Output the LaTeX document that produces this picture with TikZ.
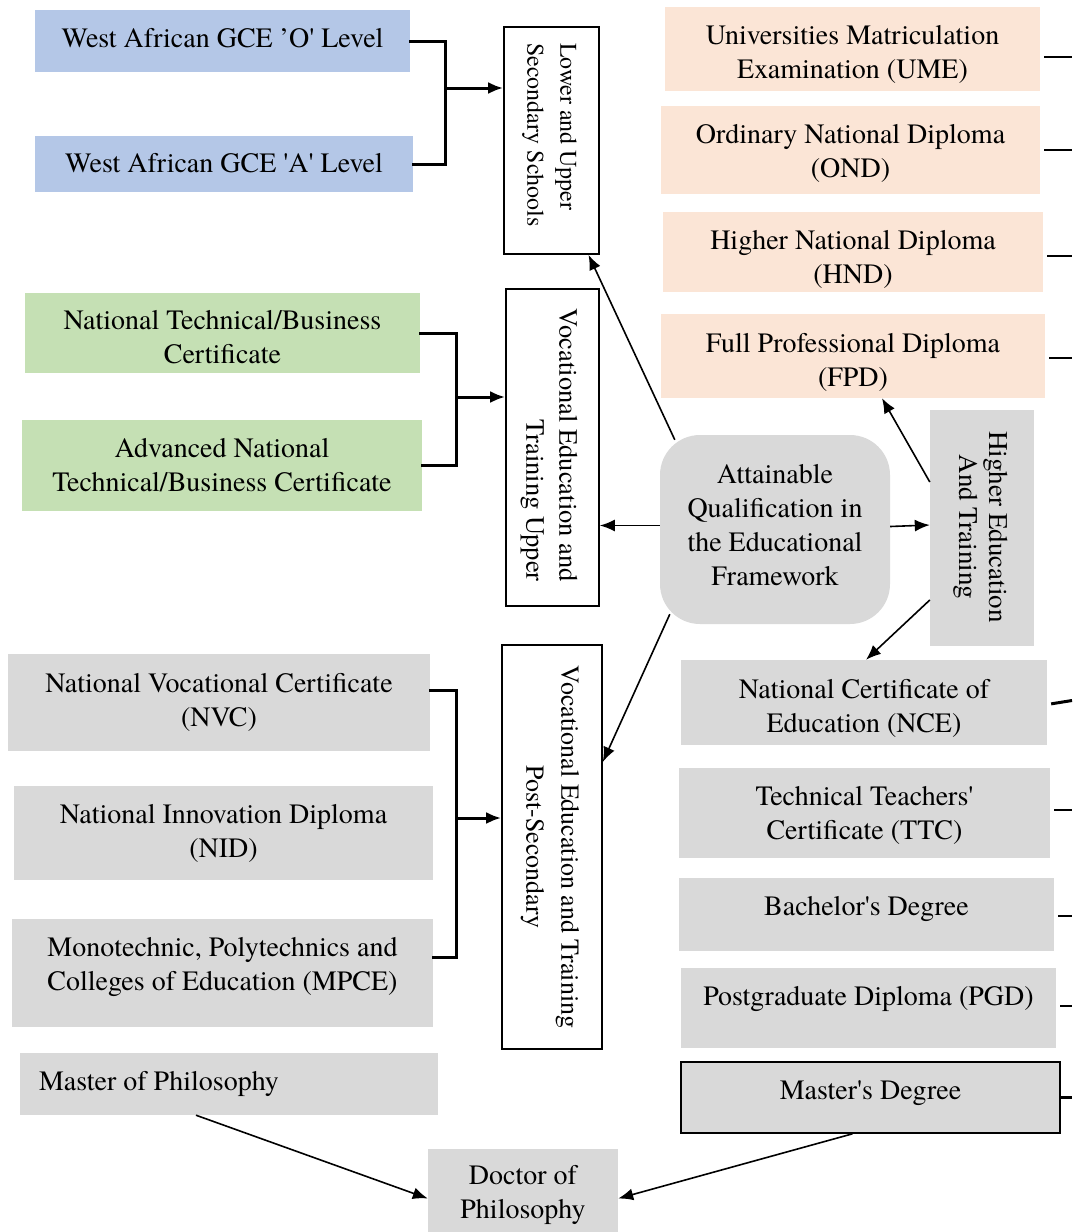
\documentclass[tikz,border=0pt]{standalone}
\usepackage{fontspec}
\setmainfont{texgyretermes}[Extension=.otf, UprightFont=*-regular, BoldFont=*-bold, ItalicFont=*-italic, BoldItalicFont=*-bolditalic]
\usetikzlibrary{arrows.meta}
\newcommand{\sq}{\textquotesingle}
\definecolor{boxblue}{HTML}{B4C7E7}
\definecolor{boxgreen}{HTML}{C5E0B4}
\definecolor{boxpeach}{HTML}{FBE5D6}
\definecolor{boxgray}{HTML}{D9D9D9}
\begin{document}
\begin{tikzpicture}[x=1pt,y=-1pt,
  font=\fontsize{28}{34}\selectfont,
  qbox/.style={rectangle, inner sep=0pt, anchor=center},
  lbl/.style={inner sep=0pt, align=center},
  blue/.style={qbox, fill=boxblue},
  green/.style={qbox, fill=boxgreen},
  peach/.style={qbox, fill=boxpeach},
  grey/.style={qbox, fill=boxgray},
  stage/.style={qbox, draw=black, line width=1.6pt, fill=white},
  vtext/.style={rotate=-90, inner sep=0pt},
  bracket/.style={line width=3pt, line cap=rect},
  link/.style={line width=1.6pt, -{Latex[length=15pt,width=12pt]}},
  feed/.style={line width=1.6pt, shorten <=4pt},
]
\useasboundingbox (0,0) rectangle (1072,1232);

% --- secondary school certificates
\node[blue, minimum width=375, minimum height=62,
  label={[lbl,yshift=3pt]center:{West African GCE 'O\sq{} Level}}] (gceO) at (222.5,41) {};
\node[blue, minimum width=378, minimum height=56,
  label={[lbl,yshift=1pt]center:{West African GCE \sq A\sq{} Level}}] (gceA) at (224,164) {};
\node[stage, minimum width=95, minimum height=227] (lower) at (551.5,140.5) {};
\node[vtext, align=left, anchor=west, font=\fontsize{24}{33}\selectfont] (lowerT) at (549.5,43) {Lower and Upper\\Secondary Schools};

% --- technical/business certificates
\node[green, minimum width=395, minimum height=80,
  label={[lbl,yshift=-4.5pt]center:{National Technical/Business\\Certificate}}] (ntbc) at (222.5,333) {};
\node[green, minimum width=400, minimum height=91,
  label={[lbl]center:{Advanced National\\Technical/Business Certificate}}] (antbc) at (222,465.5) {};
\node[stage, minimum width=93, minimum height=317] (vetU) at (552.5,447.5) {};
\node[vtext, align=right, anchor=east, font=\fontsize{26.5}{33}\selectfont] (vetUT) at (549,582) {Vocational Education and\\Training Upper};

% --- post-secondary vocational qualifications
\node[grey, minimum width=422, minimum height=97,
  label={[lbl]center:{National Vocational Certificate\\(NVC)}}] (nvc) at (219,702.5) {};
\node[grey, minimum width=419, minimum height=94,
  label={[lbl]center:{National Innovation Diploma\\(NID)}}] (nid) at (223.5,833) {};
\node[grey, minimum width=421, minimum height=108,
  label={[lbl,yshift=6pt]center:{Monotechnic, Polytechnics and\\Colleges of Education (MPCE)}}] (mpce) at (222.5,973) {};
\node[stage, minimum width=100, minimum height=404] (vetP) at (552,847) {};
\node[vtext, align=center, font=\fontsize{26}{35}\selectfont] (vetPT) at (550,847) {Vocational Education and Training\\Post-Secondary};

% --- doctoral route
\node[grey, minimum width=418, minimum height=62,
  label={[lbl,xshift=-70pt]center:{Master of Philosophy}}] (mphil) at (229,1084) {};
\node[grey, minimum width=190, minimum height=91,
  label={[lbl]center:{Doctor of\\Philosophy}}] (phd) at (523,1194.5) {};

% --- centre of the framework
\node[grey, rounded corners=40pt, minimum width=230, minimum height=189,
  label={[lbl,yshift=4.5pt]center:{Attainable\\Qualification in\\the Educational\\Framework}}] (core) at (775,529.5) {};

% --- higher education
\node[peach, minimum width=375, minimum height=84,
  label={[lbl,yshift=-5pt]center:{Universities Matriculation\\Examination (UME)}}] (ume) at (852.5,49) {};
\node[peach, minimum width=379, minimum height=88,
  label={[lbl,yshift=-3pt]center:{Ordinary National Diploma\\(OND)}}] (ond) at (850.5,150) {};
\node[peach, minimum width=380, minimum height=80,
  label={[lbl,yshift=-7pt]center:{Higher National Diploma\\(HND)}}] (hnd) at (853,252) {};
\node[peach, minimum width=384, minimum height=84,
  label={[lbl,yshift=-6pt]center:{Full Professional Diploma\\(FPD)}}] (fpd) at (853,356) {};
\node[grey, minimum width=104, minimum height=236] (hed) at (982,528) {};
\node[vtext, align=center, font=\fontsize{27}{30}\selectfont] (hedT) at (981,527) {Higher Education\\And Training};
\node[grey, minimum width=366, minimum height=85,
  label={[lbl,yshift=-6pt]center:{National Certificate of\\Education (NCE)}}] (nce) at (864,702.5) {};
\node[grey, minimum width=371, minimum height=90,
  label={[lbl,yshift=-2pt]center:{Technical Teachers\sq\\Certificate (TTC)}}] (ttc) at (864.5,813) {};
\node[grey, minimum width=375, minimum height=73,
  label={[lbl,yshift=5.5pt]center:{Bachelor\sq s Degree}}] (bach) at (866.5,914.5) {};
\node[grey, minimum width=375, minimum height=80,
  label={[lbl,yshift=9pt]center:{Postgraduate Diploma (PGD)}}] (pgd) at (868.5,1008) {};
\node[grey, draw=black, line width=1.6pt, minimum width=379, minimum height=71,
  label={[lbl,yshift=4.5pt]center:{Master\sq s Degree}}] (mast) at (870.5,1097.5) {};

% --- bracket joints, line ends and the right rim
\coordinate (j1) at (445,88);
\coordinate (j2) at (456,397);
\coordinate (j3) at (456,818);
\coordinate (rim) at (1072,0);
\coordinate (coreW) at ([yshift=4pt]core.west);
\coordinate (nvcE) at ([yshift=12.5pt]nvc.east);
\coordinate (mpceE) at ([yshift=16pt]mpce.east);
\coordinate (umeE) at ([yshift=-8pt]ume.east);
\coordinate (hndE) at ([yshift=-4pt]hnd.east);
\coordinate (fpdE) at ([yshift=-2pt]fpd.east);
\coordinate (nceE) at ([yshift=-2pt]nce.east);
\coordinate (nceR) at ([yshift=2pt]nce.east -| rim);
\coordinate (ttcE) at ([yshift=3pt]ttc.east);
\coordinate (bachE) at ([yshift=-1.5pt]bach.east);
\coordinate (pgdE) at ([yshift=2pt]pgd.east);

% --- brackets into the stage boxes
\draw[bracket] (gceO.east) -| (j1) |- (gceA.east);
\draw[link, line width=3pt] (j1) -- (lower.west |- j1);
\draw[bracket] (ntbc.east) -| (j2) |- (antbc.east);
\draw[link, line width=3pt] (j2) -- (vetU.west |- j2);
\draw[bracket] (nvcE) -| (j3) |- (mpceE);
\draw[link, line width=3pt] (j3) -- (vetP.west |- j3);

% --- arrows from the centre
\draw[link] ([xshift=15pt,yshift=-5pt]core.north west) -- ([xshift=37pt]lower.south);
\draw[link] (coreW) -- (vetU.east |- coreW);
\draw[link] ([xshift=10pt,yshift=10pt]core.south west) -- ([yshift=85pt]vetP.east);
\draw[link] ([yshift=3pt]core.east) -- ([yshift=3pt]hed.west);
\draw[link] ([yshift=46pt]hed.west) -- ([xshift=29pt]fpd.south);
\draw[link] ([yshift=-72pt]hed.west) -- ([xshift=2pt]nce.north);

% --- doctoral arrows
\draw[link] ([xshift=-33pt]mphil.south) -- ([yshift=-4pt]phd.west);
\draw[link] ([xshift=-18pt]mast.south) -- ([yshift=-4pt]phd.east);

% --- lines running off the right edge
\draw[feed] (umeE) -- (umeE -| rim);
\draw[feed] (ond.east) -- (ond.east -| rim);
\draw[feed] (hndE) -- (hndE -| rim);
\draw[feed] (fpdE) -- (fpdE -| rim);
\draw[feed, line width=3pt] (nceE) -- (nceR);
\draw[feed] (ttcE) -- (ttcE -| rim);
\draw[feed] (bachE) -- (bachE -| rim);
\draw[feed] (pgdE) -- (pgdE -| rim);
\draw[feed, line width=3pt, shorten <=0pt] (mast.east) -- (mast.east -| rim);
\end{tikzpicture}
\end{document}
